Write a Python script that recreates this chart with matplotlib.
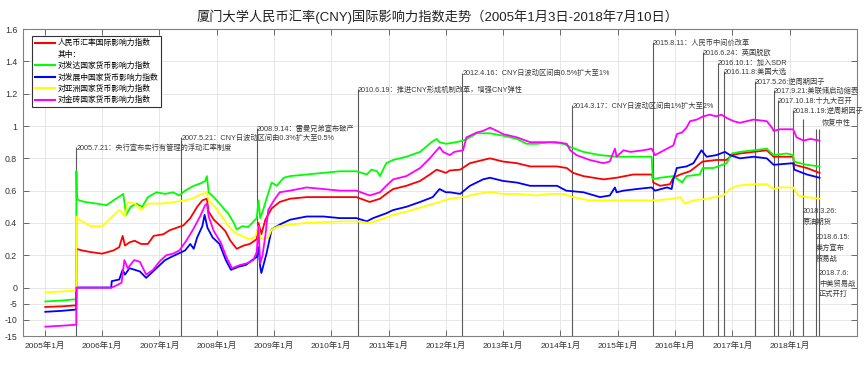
import numpy as np
import matplotlib
matplotlib.use("Agg")
import matplotlib.pyplot as plt
from matplotlib.lines import Line2D
from datetime import date

plt.rcParams['font.family'] = ['Liberation Sans', 'Noto Sans CJK SC']

# === 数据（横轴为小数年份）===

red_x = [2005.01, 2005.3, 2005.55, 2005.553, 2005.65, 2005.8, 2006.0, 2006.2, 2006.3, 2006.36, 2006.4,
         2006.48, 2006.57, 2006.68, 2006.8, 2006.9, 2007.07, 2007.18, 2007.3, 2007.42, 2007.54, 2007.66,
         2007.75, 2007.83, 2007.86, 2007.95, 2008.07, 2008.15, 2008.24, 2008.35, 2008.47, 2008.58, 2008.7,
         2008.73, 2008.78, 2008.85, 2008.96, 2009.1, 2009.28, 2009.57, 2010.15, 2010.44, 2010.67, 2010.85,
         2010.96, 2011.08, 2011.31, 2011.55, 2011.72, 2011.84, 2012.0, 2012.07, 2012.25, 2012.42, 2012.65,
         2012.77, 2013.0, 2013.24, 2013.47, 2013.7, 2013.94, 2014.11, 2014.22, 2014.4, 2014.75, 2014.98,
         2015.27, 2015.56, 2015.6, 2015.62, 2015.74, 2015.91, 2015.97, 2016.09, 2016.26, 2016.48, 2016.72,
         2016.9, 2016.99, 2017.13, 2017.6, 2017.72, 2018.06, 2018.08, 2018.3, 2018.52]
red_y = [-6.0, -5.8, -5.5, 0.24, 0.23, 0.22, 0.21, 0.23, 0.25, 0.32, 0.26,
         0.28, 0.29, 0.27, 0.27, 0.32, 0.33, 0.355, 0.37, 0.385, 0.43, 0.50,
         0.54, 0.55, 0.47, 0.42, 0.38, 0.35, 0.29, 0.24, 0.26, 0.27, 0.30,
         0.40, 0.33, 0.42, 0.49, 0.53, 0.55, 0.56, 0.56, 0.56, 0.53, 0.55,
         0.58, 0.61, 0.63, 0.66, 0.70, 0.73, 0.71, 0.725, 0.73, 0.77, 0.79,
         0.80, 0.78, 0.77, 0.75, 0.75, 0.75, 0.74, 0.71, 0.69, 0.67, 0.68,
         0.70, 0.70, 0.70, 0.65, 0.63, 0.64, 0.68, 0.70, 0.72, 0.78, 0.79,
         0.79, 0.82, 0.83, 0.85, 0.81, 0.81, 0.76, 0.74, 0.71]

green_x = [2005.01, 2005.3, 2005.55, 2005.553, 2005.56, 2005.6, 2005.7, 2005.9, 2006.08, 2006.2, 2006.33,
           2006.37, 2006.42, 2006.5, 2006.6, 2006.7, 2006.8, 2006.95, 2007.1, 2007.24, 2007.35, 2007.45,
           2007.6, 2007.72, 2007.8, 2007.83, 2007.86, 2007.95, 2008.05, 2008.12, 2008.2, 2008.3, 2008.35,
           2008.45, 2008.55, 2008.62, 2008.7, 2008.73, 2008.76, 2008.82, 2008.87, 2008.96, 2009.05, 2009.17,
           2009.28, 2009.57, 2009.86, 2010.15, 2010.44, 2010.62, 2010.7, 2010.8, 2010.85, 2010.96, 2011.08,
           2011.31, 2011.55, 2011.75, 2011.84, 2011.89, 2012.0, 2012.18, 2012.3, 2012.42, 2012.54, 2012.77,
           2013.0, 2013.24, 2013.41, 2013.59, 2013.82, 2014.05, 2014.17, 2014.4, 2014.69, 2014.98, 2015.27,
           2015.59, 2015.61, 2015.74, 2015.97, 2016.09, 2016.12, 2016.2, 2016.43, 2016.48, 2016.67, 2016.9,
           2016.99, 2017.13, 2017.37, 2017.6, 2017.72, 2017.95, 2018.06, 2018.07, 2018.3, 2018.52]
green_y = [-4.3, -4.0, -3.6, 0.72, 0.55, 0.54, 0.53, 0.52, 0.51, 0.54, 0.57,
           0.58, 0.45, 0.50, 0.52, 0.50, 0.56, 0.59, 0.58, 0.59, 0.57, 0.60,
           0.63, 0.645, 0.66, 0.69, 0.59, 0.56, 0.52, 0.49, 0.46, 0.40, 0.36,
           0.38, 0.375, 0.40, 0.43, 0.54, 0.43, 0.49, 0.55, 0.65, 0.63, 0.68,
           0.69, 0.70, 0.71, 0.72, 0.72, 0.70, 0.73, 0.72, 0.69, 0.77, 0.79,
           0.81, 0.84, 0.90, 0.92, 0.90, 0.89, 0.90, 0.91, 0.93, 0.955, 0.955,
           0.94, 0.92, 0.89, 0.89, 0.90, 0.89, 0.87, 0.84, 0.82, 0.81, 0.81,
           0.81, 0.67, 0.68, 0.69, 0.66, 0.65, 0.69, 0.70, 0.74, 0.74, 0.77,
           0.83, 0.84, 0.85, 0.86, 0.82, 0.83, 0.82, 0.78, 0.76, 0.75]

blue_x = [2005.01, 2005.3, 2005.55, 2005.553, 2006.16, 2006.17, 2006.3, 2006.36, 2006.4, 2006.48, 2006.57,
          2006.66, 2006.77, 2006.86, 2006.98, 2007.1, 2007.21, 2007.33, 2007.45, 2007.54, 2007.6, 2007.66,
          2007.75, 2007.79, 2007.84, 2007.93, 2008.05, 2008.16, 2008.25, 2008.39, 2008.51, 2008.62, 2008.7,
          2008.73, 2008.76, 2008.78, 2008.87, 2008.96, 2009.1, 2009.28, 2009.57, 2009.86, 2010.15, 2010.44,
          2010.62, 2010.73, 2010.96, 2011.08, 2011.31, 2011.55, 2011.77, 2011.89, 2012.0, 2012.07, 2012.25,
          2012.42, 2012.65, 2012.77, 2013.0, 2013.24, 2013.47, 2013.7, 2013.94, 2014.1, 2014.4, 2014.69,
          2014.86, 2014.95, 2014.98, 2015.1, 2015.33, 2015.59, 2015.65, 2015.86, 2015.94, 2015.97, 2016.03,
          2016.2, 2016.32, 2016.46, 2016.55, 2016.72, 2016.87, 2016.96, 2017.13, 2017.37, 2017.6, 2017.72,
          2018.06, 2018.08, 2018.3, 2018.52]
blue_y = [-7.5, -7.2, -6.8, 0.0, 0.0, 0.04, 0.05, 0.11, 0.08, 0.12, 0.11,
          0.10, 0.06, 0.09, 0.13, 0.17, 0.19, 0.21, 0.23, 0.27, 0.24, 0.31,
          0.38, 0.45, 0.37, 0.31, 0.27, 0.17, 0.11, 0.13, 0.14, 0.17, 0.19,
          0.25, 0.13, 0.09, 0.21, 0.36, 0.39, 0.42, 0.44, 0.44, 0.43, 0.43,
          0.41, 0.43, 0.46, 0.48, 0.50, 0.53, 0.56, 0.61, 0.59, 0.59, 0.58,
          0.63, 0.67, 0.68, 0.66, 0.65, 0.63, 0.63, 0.63, 0.60, 0.59, 0.56,
          0.57, 0.62, 0.59, 0.60, 0.61, 0.62, 0.60, 0.62, 0.61, 0.67, 0.74,
          0.75, 0.77, 0.85, 0.81, 0.82, 0.84, 0.82, 0.80, 0.81, 0.80, 0.76,
          0.77, 0.73, 0.70, 0.68]

yellow_x = [2005.01, 2005.3, 2005.55, 2005.553, 2005.6, 2005.8, 2006.0, 2006.12, 2006.3, 2006.36, 2006.4,
            2006.45, 2006.57, 2006.68, 2006.8, 2007.03, 2007.27, 2007.45, 2007.57, 2007.68, 2007.83, 2007.86,
            2007.97, 2008.09, 2008.21, 2008.32, 2008.44, 2008.55, 2008.67, 2008.73, 2008.76, 2008.9, 2008.96,
            2009.08, 2009.28, 2009.57, 2010.15, 2010.44, 2010.67, 2010.85, 2011.08, 2011.31, 2011.6, 2011.89,
            2012.07, 2012.3, 2012.54, 2012.77, 2013.0, 2013.24, 2013.59, 2013.82, 2014.05, 2014.22, 2014.5,
            2014.98, 2015.33, 2015.68, 2015.97, 2016.09, 2016.17, 2016.32, 2016.55, 2016.84, 2016.96, 2017.08,
            2017.37, 2017.6, 2017.72, 2017.83, 2018.06, 2018.15, 2018.3, 2018.52]
yellow_y = [-1.5, -1.2, -0.9, 0.44, 0.42, 0.38, 0.38, 0.42, 0.48, 0.46, 0.44,
            0.53, 0.52, 0.48, 0.52, 0.52, 0.53, 0.54, 0.55, 0.57, 0.59, 0.54,
            0.50, 0.44, 0.38, 0.34, 0.32, 0.30, 0.31, 0.38, 0.30, 0.31, 0.36,
            0.38, 0.39, 0.40, 0.41, 0.41, 0.40, 0.42, 0.45, 0.47, 0.50, 0.53,
            0.55, 0.56, 0.58, 0.59, 0.58, 0.58, 0.57, 0.58, 0.58, 0.56, 0.54,
            0.54, 0.54, 0.54, 0.55, 0.56, 0.52, 0.54, 0.55, 0.57, 0.61, 0.63,
            0.64, 0.64, 0.61, 0.62, 0.62, 0.57, 0.56, 0.55]

magenta_x = [2005.01, 2005.3, 2005.55, 2005.553, 2006.17, 2006.26, 2006.34, 2006.39, 2006.45, 2006.56, 2006.66,
             2006.77, 2006.89, 2007.0, 2007.12, 2007.24, 2007.35, 2007.47, 2007.59, 2007.71, 2007.8, 2007.83,
             2007.86, 2007.95, 2008.07, 2008.18, 2008.27, 2008.41, 2008.53, 2008.64, 2008.7, 2008.73, 2008.76,
             2008.8, 2008.85, 2008.9, 2009.0, 2009.1, 2009.28, 2009.57, 2009.86, 2010.15, 2010.44, 2010.67,
             2010.85, 2010.96, 2011.08, 2011.31, 2011.55, 2011.72, 2011.89, 2011.95, 2012.07, 2012.15, 2012.3,
             2012.36, 2012.54, 2012.65, 2012.77, 2012.89, 2013.0, 2013.24, 2013.47, 2013.7, 2013.94, 2014.11,
             2014.17, 2014.28, 2014.51, 2014.75, 2014.86, 2014.95, 2014.98, 2015.1, 2015.22, 2015.45, 2015.59,
             2015.65, 2015.86, 2015.97, 2016.03, 2016.12, 2016.2, 2016.26, 2016.38, 2016.49, 2016.61, 2016.72,
             2016.81, 2016.9, 2017.02, 2017.13, 2017.37, 2017.6, 2017.69, 2017.72, 2017.83, 2018.06, 2018.12,
             2018.24, 2018.36, 2018.52]
magenta_y = [-12.1, -11.8, -11.5, 0.0, 0.0, 0.015, 0.03, 0.17, 0.12, 0.17, 0.16,
             0.08, 0.11, 0.16, 0.20, 0.21, 0.23, 0.29, 0.36, 0.44, 0.51, 0.52,
             0.44, 0.35, 0.28, 0.18, 0.12, 0.14, 0.15, 0.17, 0.22, 0.38, 0.15,
             0.20, 0.32, 0.48, 0.54, 0.59, 0.60, 0.62, 0.61, 0.60, 0.60, 0.57,
             0.59, 0.63, 0.67, 0.69, 0.74, 0.80, 0.87, 0.84, 0.82, 0.84, 0.85,
             0.93, 0.96, 0.97, 0.99, 0.97, 0.95, 0.93, 0.90, 0.90, 0.90, 0.89,
             0.85, 0.82, 0.79, 0.77, 0.78, 0.86, 0.81, 0.85, 0.84, 0.85, 0.86,
             0.82, 0.86, 0.88, 0.95, 0.96, 0.99, 1.03, 1.04, 1.06, 1.07, 1.06,
             1.07, 1.05, 1.03, 1.02, 1.04, 1.03, 0.99, 0.97, 0.98, 0.98, 0.93,
             0.91, 0.92, 0.91]

series_names = ['人民币汇率国际影响力指数', '对发达国家货币影响力指数', '对发展中国家货币影响力指数',
                '对亚洲国家货币影响力指数', '对金砖国家货币影响力指数']

event_dates = ['2005-07-21', '2007-05-21', '2008-09-14', '2010-06-19', '2012-04-16', '2014-03-17',
               '2015-08-11', '2016-06-24', '2016-10-01', '2016-11-08', '2017-05-26', '2017-09-21',
               '2017-10-18', '2018-01-19', '2018-03-26', '2018-06-15', '2018-07-06']
event_labels = ['2005.7.21：央行宣布实行有管理的浮动汇率制度',
                '2007.5.21：CNY日波动区间由0.3%扩大至0.5%',
                '2008.9.14：雷曼兄弟宣布破产',
                '2010.6.19：推进CNY形成机制改革，增强CNY弹性',
                '2012.4.16：CNY日波动区间由0.5%扩大至1%',
                '2014.3.17：CNY日波动区间由1%扩大至2%',
                '2015.8.11：人民币中间价改革',
                '2016.6.24：英国脱欧',
                '2016.10.1：加入SDR',
                '2016.11.8:美国大选',
                '2017.5.26:逆周期因子',
                '2017.9.21:美联储启动缩表',
                '2017.10.18:十九大召开',
                '2018.1.19:逆周期因子',
                '2018.3.26:\n原油期货',
                '2018.6.15:\n美方宣布\n贸易战',
                '2018.7.6:\n中美贸易战\n正式开打']
extra_label = '恢复中性'

year_ticks = list(range(2005, 2019))
y_ticks = [-15, -10, -5, 0, 0.2, 0.4, 0.6, 0.8, 1, 1.2, 1.4, 1.6]
y_ticklabels = ['-15', '-10', '-5', '0', '0.2', '0.4', '0.6', '0.8', '1', '1.2', '1.4', '1.6']

# === 版式 ===
# 标注文字的高度（第一行中心 / 多行文字顶端）与竖线顶端
label_level = [0.866, 0.927, 0.983, 1.223, 1.327, 1.124, 1.512, 1.451, 1.389, 1.334, 1.272,
               1.217, 1.155, 1.094, 0.49, 0.33, 0.109]
line_top = [0.87, 0.93, 0.99, 1.23, 1.33, 1.13, 1.52, 1.46, 1.39, 1.34, 1.28,
            1.22, 1.16, 1.10, 1.044, 0.98, 0.98]
colores = ['#ff0000', '#00ff00', '#0000ff', '#ffff00', '#ff00ff']


def dec(s):
    d = date.fromisoformat(s)
    return d.year + (d.timetuple().tm_yday - 1) / 365.25


def fwd(y):
    y = np.asarray(y, dtype=float)
    return np.where(y < 0, y / 50.0, y)


def inv(y):
    y = np.asarray(y, dtype=float)
    return np.where(y < 0, y * 50.0, y)


fig = plt.figure(figsize=(8.64, 3.78), dpi=100)
ax = fig.add_axes([0.0263, 0.111, 0.9657, 0.812])
ax.set_yscale('function', functions=(fwd, inv))

ev_x = [dec(s) for s in event_dates]
ax.vlines(ev_x, -15, line_top, colors='#5a5a5a', linewidth=0.8, zorder=2)

for xs, ys, c, name in zip([red_x, green_x, blue_x, yellow_x, magenta_x],
                           [red_y, green_y, blue_y, yellow_y, magenta_y],
                           colores, series_names):
    ax.plot(xs, ys, color=c, linewidth=1.3, label=name, zorder=3)

for i, (x, lab, lv) in enumerate(zip(ev_x, event_labels, label_level)):
    va = 'top' if '\n' in lab else 'center'
    ax.text(x, lv, lab, fontsize=5.2, color='#3a3a3a', ha='left', va=va,
            linespacing=1.6, zorder=4)
ax.text(2018.565, 1.02, extra_label, fontsize=5.2, color='#3a3a3a', ha='left', va='center', zorder=4)

ax.set_xlim(2004.616, 2019.176)
ax.set_ylim(-15, 1.6)
ax.set_xticks(year_ticks)
ax.set_xticklabels([f'{y}年1月' for y in year_ticks])
ax.set_yticks(y_ticks)
ax.set_yticklabels(y_ticklabels)
ax.tick_params(axis='both', direction='in', length=4, width=0.6, colors='#555555',
               labelsize=6.3, top=True, right=True, pad=4)
ax.tick_params(axis='x', labelsize=6.0)
for lbl in ax.get_xticklabels() + ax.get_yticklabels():
    lbl.set_color('#333333')
ax.grid(True, color='#e3e3e3', linewidth=0.6, zorder=0)
ax.set_axisbelow(True)
for sp in ax.spines.values():
    sp.set_color('#808080')
    sp.set_linewidth(0.8)

handles = [Line2D([], [], color=colores[0], lw=1.5),
           Line2D([], [], color='none', lw=1.5)]
handles += [Line2D([], [], color=c, lw=1.5) for c in colores[1:]]
labels = [series_names[0], '其中：'] + series_names[1:]
leg = ax.legend(handles, labels, loc='upper left', bbox_to_anchor=(0.011, 0.977), borderaxespad=0,
                fontsize=5.6, frameon=True, fancybox=False, edgecolor='#333333', framealpha=1,
                handlelength=2.6, handletextpad=0.3, labelspacing=0.42, borderpad=0.4)
leg.get_frame().set_linewidth(0.8)
leg.set_zorder(5)

fig.text(0.506, 0.955, '厦门大学人民币汇率(CNY)国际影响力指数走势（2005年1月3日-2018年7月10日）',
         ha='center', va='center', fontsize=9.5, color='#222222')

fig.savefig('out.png', dpi=100)
